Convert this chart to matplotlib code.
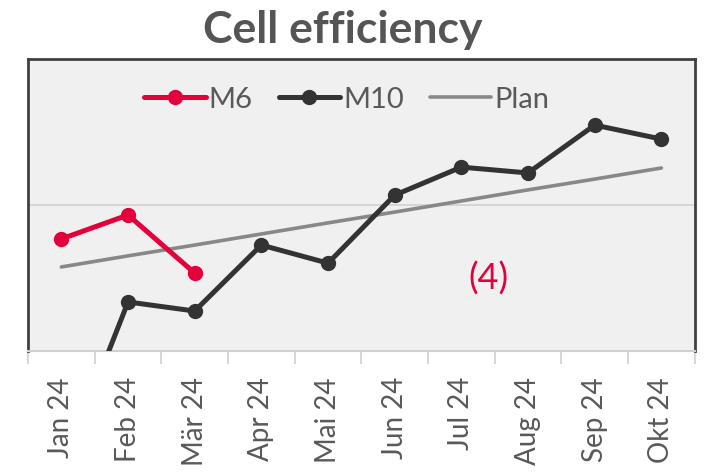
import numpy as np
import matplotlib.pyplot as plt

# --- Datos ---
months = ['Jan 24', 'Feb 24', 'Mär 24', 'Apr 24', 'Mai 24',
          'Jun 24', 'Jul 24', 'Aug 24', 'Sep 24', 'Okt 24']
m6 = [93.84, 94.66, 92.67]
m10 = [85.86, 91.68, 91.37, 93.63, 93.01, 95.34, 96.30, 96.10, 97.74, 97.26]
plan = [92.88, 93.26, 93.63, 94.01, 94.39, 94.76, 95.14, 95.52, 95.89, 96.27]

red = '#E4003A'
dark = '#333333'
grey = '#888888'
text_col = '#595959'

plt.rcParams['font.family'] = ['Lato', 'DejaVu Sans']

fig = plt.figure(figsize=(7.06, 4.77), dpi=100)
ax = fig.add_axes([0.0397, 0.262, 0.9443, 0.612])
ax.set_facecolor('#F0F0F0')

x = np.arange(len(months))
ax.axhline(95, color='#D0D0D0', linewidth=1.2, zorder=1)

ax.plot(x[:len(m6)], m6, color=red, linewidth=3.6, marker='o', markersize=10,
        solid_capstyle='round', label='M6', zorder=3)
ax.plot(x, m10, color=dark, linewidth=3.6, marker='o', markersize=10,
        solid_capstyle='round', label='M10', zorder=3)
ax.plot(x, plan, color=grey, linewidth=2.6, solid_capstyle='round',
        label='Plan', zorder=2)

ax.text(6.4, 92.5, '(4)', color=red, fontsize=26,
        ha='center', va='center')

ax.set_xlim(-0.5, 9.5)
ax.set_ylim(90, 100)
ax.set_yticks([])

ax.set_xticks(x)
ax.set_xticklabels(months, rotation=90, fontsize=20, color=text_col)
ax.tick_params(axis='x', which='major', length=0, pad=18)
ax.set_xticks(np.arange(-0.5, 10, 1), minor=True)
ax.tick_params(axis='x', which='minor', length=9, width=1.2, color='#D0D0D0')

for side in ['left', 'right', 'top']:
    ax.spines[side].set_color('#404040')
    ax.spines[side].set_linewidth(2)
ax.spines['bottom'].set_color('#D0D0D0')
ax.spines['bottom'].set_linewidth(1.5)

leg = ax.legend(loc='center', bbox_to_anchor=(0.478, 0.863), ncol=3,
                frameon=False, fontsize=21, handlelength=2.1,
                handletextpad=0.1, columnspacing=0.9)
for t in leg.get_texts():
    t.set_color(text_col)

fig.text(343 / 706, 1 - 30 / 477, 'Cell efficiency', ha='center', va='center',
         fontsize=32, fontweight='bold', color='#555555')

fig.savefig('out.png', dpi=100)
